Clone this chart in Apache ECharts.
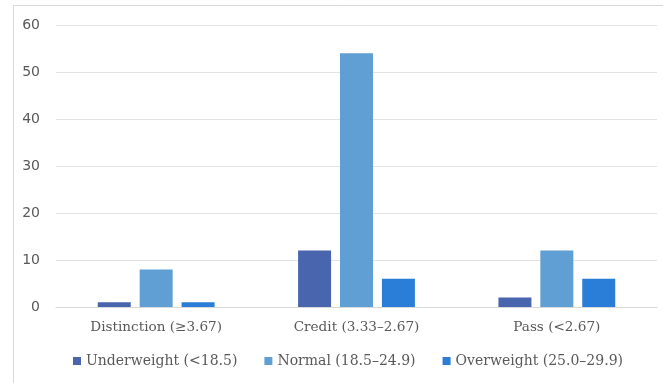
<!DOCTYPE html>
<html>
<head>
<meta charset="utf-8">
<script src="https://cdn.jsdelivr.net/npm/echarts@6/dist/echarts.min.js"></script>
<style>
  html, body { margin: 0; padding: 0; background: #ffffff; }
  #chart { width: 663px; height: 383px; }
</style>
</head>
<body>
<div id="chart"></div>
<script>
// Grade bands along the x axis
const categories = ['Distinction (\u22653.67)', 'Credit (3.33\u20132.67)', 'Pass (<2.67)'];
// BMI groups (counts per grade band)
const underweight = [1, 12, 2];
const normal = [8, 54, 12];
const overweight = [1, 6, 6];
const seriesNames = ['Underweight (<18.5)', 'Normal (18.5\u201324.9)', 'Overweight (25.0\u201329.9)'];
const yTicks = { min: 0, max: 60, interval: 10 };

const serif = '"DejaVu Serif", "Liberation Serif", serif';
const sans = '"DejaVu Sans", "Liberation Sans", sans-serif';
const textColor = '#595959';

const chart = echarts.init(document.getElementById('chart'), null, { renderer: 'canvas' });

const colors = ['#4865ae', '#609fd3', '#2a7ed7'];
const values = [underweight, normal, overweight];

chart.setOption({
  animation: false,
  backgroundColor: '#ffffff',
  graphic: [{
    type: 'rect',
    shape: { x: 13.5, y: 5.5, width: 700, height: 400 },
    style: { fill: 'none', stroke: '#d9d9d9', lineWidth: 1 },
    silent: true
  }],
  grid: { left: 56, right: 6, top: 25, bottom: 76 },
  legend: {
    bottom: 10,
    left: 68,
    itemWidth: 8,
    itemHeight: 8,
    itemGap: 27,
    icon: 'rect',
    textStyle: { fontFamily: serif, fontSize: 14, color: textColor },
    data: seriesNames
  },
  xAxis: {
    type: 'category',
    data: categories,
    axisLine: { lineStyle: { color: '#d9d9d9', width: 1 } },
    axisTick: { show: false },
    axisLabel: { fontFamily: serif, fontSize: 13.6, color: textColor, margin: 13 }
  },
  yAxis: {
    type: 'value',
    min: yTicks.min,
    max: yTicks.max,
    interval: yTicks.interval,
    axisLine: { show: false },
    axisTick: { show: false },
    splitLine: { lineStyle: { color: '#e3e3e3', width: 1 } },
    axisLabel: { fontFamily: sans, fontSize: 14, color: textColor, margin: 16 }
  },
  series: values.map((d, i) => ({
    name: seriesNames[i],
    type: 'bar',
    data: d,
    barWidth: 33,
    barGap: '27%',
    itemStyle: { color: colors[i] }
  }))
});
</script>
</body>
</html>
